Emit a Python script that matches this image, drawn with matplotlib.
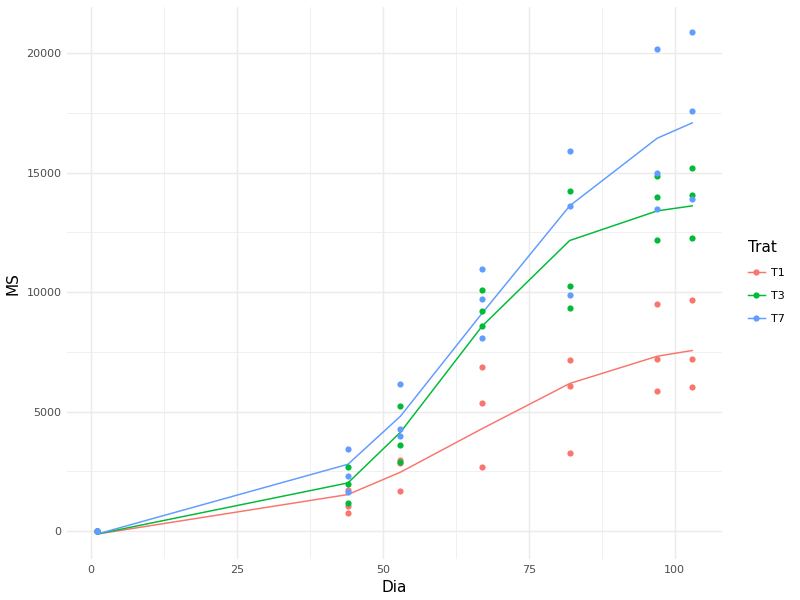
import numpy as np
import matplotlib
matplotlib.use('Agg')
import matplotlib.pyplot as plt
from matplotlib.lines import Line2D

# dias de amostragem
dias = [1, 44, 53, 67, 82, 97, 103]
trats = ['T1', 'T3', 'T7']
cores = {'T1': '#F8766D', 'T3': '#00BA38', 'T7': '#619CFF'}

# observacoes (3 repeticoes por dia)
ms_t1 = [[0, 0, 0], [1715, 1045, 770], [3000, 2860, 1690], [6850, 5360, 2690],
         [7170, 6090, 3280], [9510, 7200, 5870], [9670, 7210, 6050]]
ms_t3 = [[0, 0, 0], [2690, 1970, 1160], [5230, 3620, 2900], [10070, 9200, 8580],
         [14250, 10260, 9320], [14840, 14000, 12190], [15190, 14050, 12260]]
ms_t7 = [[0, 0, 0], [3460, 2300, 1630], [6140, 4280, 3970], [10960, 9710, 8080],
         [15900, 13610, 9870], [20180, 14990, 13490], [20870, 17590, 13880]]

# curvas ajustadas
fit_t1 = [-120, 1535, 2470, 4290, 6180, 7320, 7560]
fit_t3 = [-120, 2020, 4140, 8580, 12160, 13400, 13610]
fit_t7 = [-120, 2800, 4810, 9120, 13610, 16440, 17080]

obs = {'T1': ms_t1, 'T3': ms_t3, 'T7': ms_t7}
fit = {'T1': fit_t1, 'T3': fit_t3, 'T7': fit_t7}

fig = plt.figure(figsize=(8, 6), dpi=100)
ax = fig.add_axes([0.084, 0.068, 0.8185, 0.92])

for t in trats:
    xs = [d for d, v in zip(dias, obs[t]) for _ in v]
    ys = [y for v in obs[t] for y in v]
    ax.scatter(xs, ys, s=20, color=cores[t], linewidths=0, zorder=3)
    ax.plot(dias, fit[t], color=cores[t], lw=1.07, zorder=2)

ax.set_xlim(-4.1, 108.1)
ax.set_ylim(-1170, 21920)
ax.set_xticks([0, 25, 50, 75, 100])
ax.set_yticks([0, 5000, 10000, 15000, 20000])
ax.set_xticks([12.5, 37.5, 62.5, 87.5], minor=True)
ax.set_yticks([2500, 7500, 12500, 17500], minor=True)
ax.grid(which='major', color='#EBEBEB', lw=1.07)
ax.grid(which='minor', color='#EBEBEB', lw=0.53)
ax.set_axisbelow(True)
for s in ax.spines.values():
    s.set_visible(False)
ax.tick_params(which='both', length=0, labelsize=8, labelcolor='#4D4D4D', pad=4)
ax.set_xlabel('Dia', fontsize=11)
ax.set_ylabel('MS', fontsize=11)

handles = [Line2D([0], [0], color=cores[t], lw=1.07, marker='o', markersize=4.5,
                  markeredgewidth=0) for t in trats]
leg = fig.legend(handles, trats, title='Trat', loc='center left',
                 bbox_to_anchor=(0.922, 0.53), frameon=False, fontsize=8,
                 title_fontsize=11, handlelength=1.6, labelspacing=1.15,
                 handletextpad=0.5)
leg._legend_box.align = 'left'

fig.savefig('out.png', dpi=100)
